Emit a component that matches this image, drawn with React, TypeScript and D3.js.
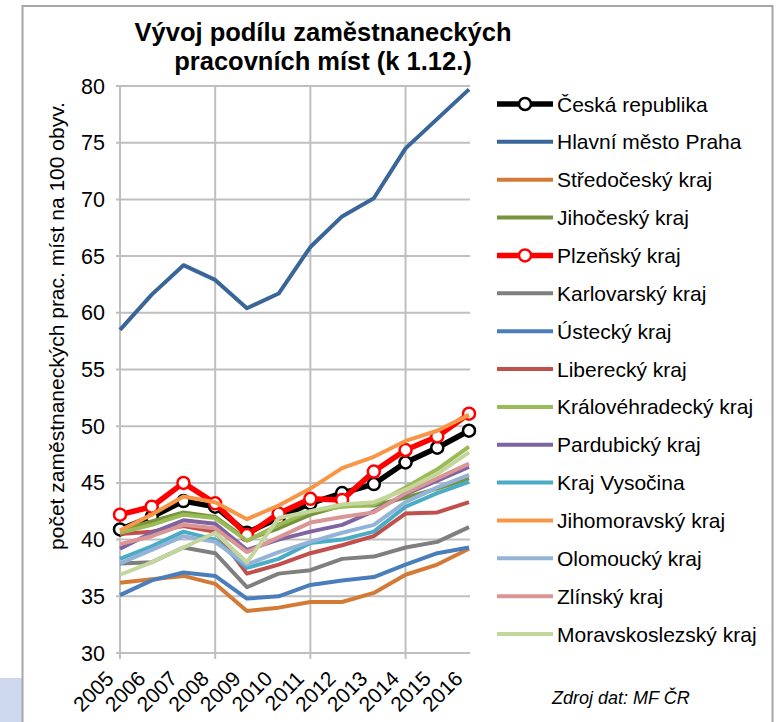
import React from "react";
import * as d3 from "d3";

const years = [2005, 2006, 2007, 2008, 2009, 2010, 2011, 2012, 2013, 2014, 2015, 2016];
const yTicks = [30, 35, 40, 45, 50, 55, 60, 65, 70, 75, 80];
const gridYears = [2005, 2008, 2011, 2014];

const seriesNames = [
  "Česká republika",
  "Hlavní město Praha",
  "Středočeský kraj",
  "Jihočeský kraj",
  "Plzeňský kraj",
  "Karlovarský kraj",
  "Ústecký kraj",
  "Liberecký kraj",
  "Královéhradecký kraj",
  "Pardubický kraj",
  "Kraj Vysočina",
  "Jihomoravský kraj",
  "Olomoucký kraj",
  "Zlínský kraj",
  "Moravskoslezský kraj",
];
const seriesColors = [
  "#000000", "#3a6599", "#d37b36", "#77933c", "#ff0000", "#7f7f7f", "#4a7ebb",
  "#c0504d", "#9bbb59", "#8064a2", "#4bacc6", "#f79646", "#95b3d7", "#d99694", "#c3d69b",
];
const markerSeries = [true, false, false, false, true, false, false, false, false, false, false, false, false, false, false];

const cr = [40.9, 42.0, 43.4, 42.9, 40.6, 41.9, 43.2, 44.1, 44.9, 46.8, 48.1, 49.6];
const praha = [58.5, 61.6, 64.2, 62.9, 60.4, 61.7, 65.8, 68.5, 70.1, 74.5, 77.1, 79.7];
const stredocesky = [36.2, 36.5, 36.8, 36.1, 33.7, 34.0, 34.5, 34.5, 35.3, 36.9, 37.8, 39.2];
const jihocesky = [40.8, 41.6, 42.4, 42.0, 40.0, 41.0, 42.2, 43.0, 43.0, 43.7, 44.5, 45.4];
const plzensky = [42.2, 42.9, 45.0, 43.2, 40.4, 42.3, 43.6, 43.5, 46.0, 47.9, 49.1, 51.1];
const karlovarsky = [37.9, 38.0, 39.3, 38.8, 35.8, 37.0, 37.3, 38.3, 38.5, 39.3, 39.8, 41.1];
const ustecky = [35.1, 36.4, 37.1, 36.8, 34.8, 35.0, 36.0, 36.4, 36.7, 37.8, 38.8, 39.3];
const liberecky = [40.5, 40.7, 41.2, 40.7, 37.0, 37.8, 38.8, 39.5, 40.3, 42.3, 42.4, 43.3];
const kralovehradecky = [40.6, 41.3, 42.2, 41.9, 39.9, 41.3, 42.5, 42.9, 43.1, 44.6, 46.2, 48.2];
const pardubicky = [39.2, 40.6, 41.7, 41.4, 39.1, 40.0, 40.7, 41.3, 42.5, 44.0, 45.2, 46.4];
const vysocina = [38.3, 39.4, 40.7, 40.0, 37.5, 38.3, 39.7, 40.0, 40.7, 42.9, 44.1, 45.1];
const jihomoravsky = [40.8, 42.2, 43.8, 43.3, 41.8, 43.0, 44.5, 46.3, 47.3, 48.7, 49.6, 51.0];
const olomoucky = [37.9, 39.1, 40.3, 39.8, 37.8, 38.9, 39.8, 40.6, 41.3, 43.3, 44.6, 45.7];
const zlinsky = [39.6, 40.3, 41.3, 41.0, 38.9, 40.2, 41.5, 42.0, 42.4, 44.1, 45.4, 46.7];
const moravskoslezsky = [36.9, 38.0, 39.3, 40.6, 38.0, 41.9, 42.5, 43.1, 43.3, 44.4, 45.8, 47.7];

const seriesValues = [
  cr, praha, stredocesky, jihocesky, plzensky, karlovarsky, ustecky, liberecky,
  kralovehradecky, pardubicky, vysocina, jihomoravsky, olomoucky, zlinsky, moravskoslezsky,
];

const titleLines = ["Vývoj podílu zaměstnaneckých", "pracovních míst (k 1.12.)"];
const yTitle = "počet zaměstnaneckých prac. míst na 100 obyv.";
const sourceText = "Zdroj dat: MF ČR";

const FONT = "'Liberation Sans', Arial, sans-serif";

function T(props: any) {
  const { x, y, sx = 1, rotate = 0, children, ...rest } = props;
  return (
    <text
      transform={`translate(${x},${y}) rotate(${rotate}) scale(${sx},1)`}
      fontFamily={FONT}
      fill="#000"
      {...rest}
    >
      {children}
    </text>
  );
}

export default function App() {
  const W = 778;
  const H = 722;
  const left = 120;
  const right = 469;
  const top = 86;
  const bottom = 653;

  const x = d3.scaleLinear().domain([2005, 2016]).range([left, right]);
  const y = d3.scaleLinear().domain([30, 80]).range([bottom, top]);
  const line = d3
    .line<number>()
    .x((_, i) => x(years[i]))
    .y((d) => y(d));

  const gridColor = "#bfbfbf";
  const legendX0 = 497;
  const legendX1 = 553;
  const legendTop = 104;
  const legendStep = 37.86;

  return (
    <svg
      width={W}
      height={H}
      style={{ position: "absolute", left: 0, top: 0, background: "#fff" }}
    >
      <rect x={0} y={0} width={W} height={H} fill="#fff" />
      <rect x={0} y={678} width={22} height={44} fill="#cdd8ee" />
      <rect x={22.5} y={6} width={750} height={730} fill="#fff" stroke="#a6a6a6" strokeWidth={2} />

      {/* title */}
      {titleLines.map((t, i) => (
        <T key={i} x={323} y={41 + i * 29} textAnchor="middle" fontSize={25.5} fontWeight="bold">
          {t}
        </T>
      ))}

      {/* horizontal gridlines */}
      {yTicks.map((v) => (
        <line key={v} x1={left - 4} x2={right + 1} y1={y(v)} y2={y(v)} stroke={gridColor} strokeWidth={2} />
      ))}
      {/* vertical gridlines */}
      {gridYears.map((yr) => (
        <line key={yr} x1={x(yr)} x2={x(yr)} y1={top} y2={bottom + 6} stroke={gridColor} strokeWidth={2} />
      ))}

      {/* y tick labels */}
      {yTicks.map((v) => (
        <T key={v} x={105} y={y(v) + 7.5} textAnchor="end" fontSize={21.5}>
          {v}
        </T>
      ))}

      {/* y title */}
      <T x={64} y={326} rotate={-90} textAnchor="middle" fontSize={21}>
        {yTitle}
      </T>

      {/* x tick labels */}
      {years.map((yr) => (
        <T key={yr} x={x(yr) - 5} y={680} rotate={-45} textAnchor="end" fontSize={21}>
          {yr}
        </T>
      ))}

      {/* series */}
      {seriesValues.map((vals, si) => (
        <g key={si}>
          <path
            d={line(vals) || ""}
            fill="none"
            stroke={seriesColors[si]}
            strokeWidth={markerSeries[si] ? 5.5 : 4}
            strokeLinejoin="round"
          />
          {markerSeries[si] &&
            vals.map((v, i) => (
              <circle key={i} cx={x(years[i])} cy={y(v)} r={6} fill="#fff" stroke={seriesColors[si]} strokeWidth={2.5} />
            ))}
        </g>
      ))}

      {/* legend */}
      {seriesNames.map((name, i) => {
        const ly = legendTop + i * legendStep;
        return (
          <g key={name}>
            <line
              x1={legendX0}
              x2={legendX1}
              y1={ly}
              y2={ly}
              stroke={seriesColors[i]}
              strokeWidth={markerSeries[i] ? 5.5 : 4}
            />
            {markerSeries[i] && (
              <circle cx={(legendX0 + legendX1) / 2} cy={ly} r={6} fill="#fff" stroke={seriesColors[i]} strokeWidth={2.5} />
            )}
            <T x={557} y={ly + 7.5} fontSize={21}>
              {name}
            </T>
          </g>
        );
      })}

      <T x={552} y={704} fontSize={18} fontStyle="italic">
        {sourceText}
      </T>
    </svg>
  );
}
